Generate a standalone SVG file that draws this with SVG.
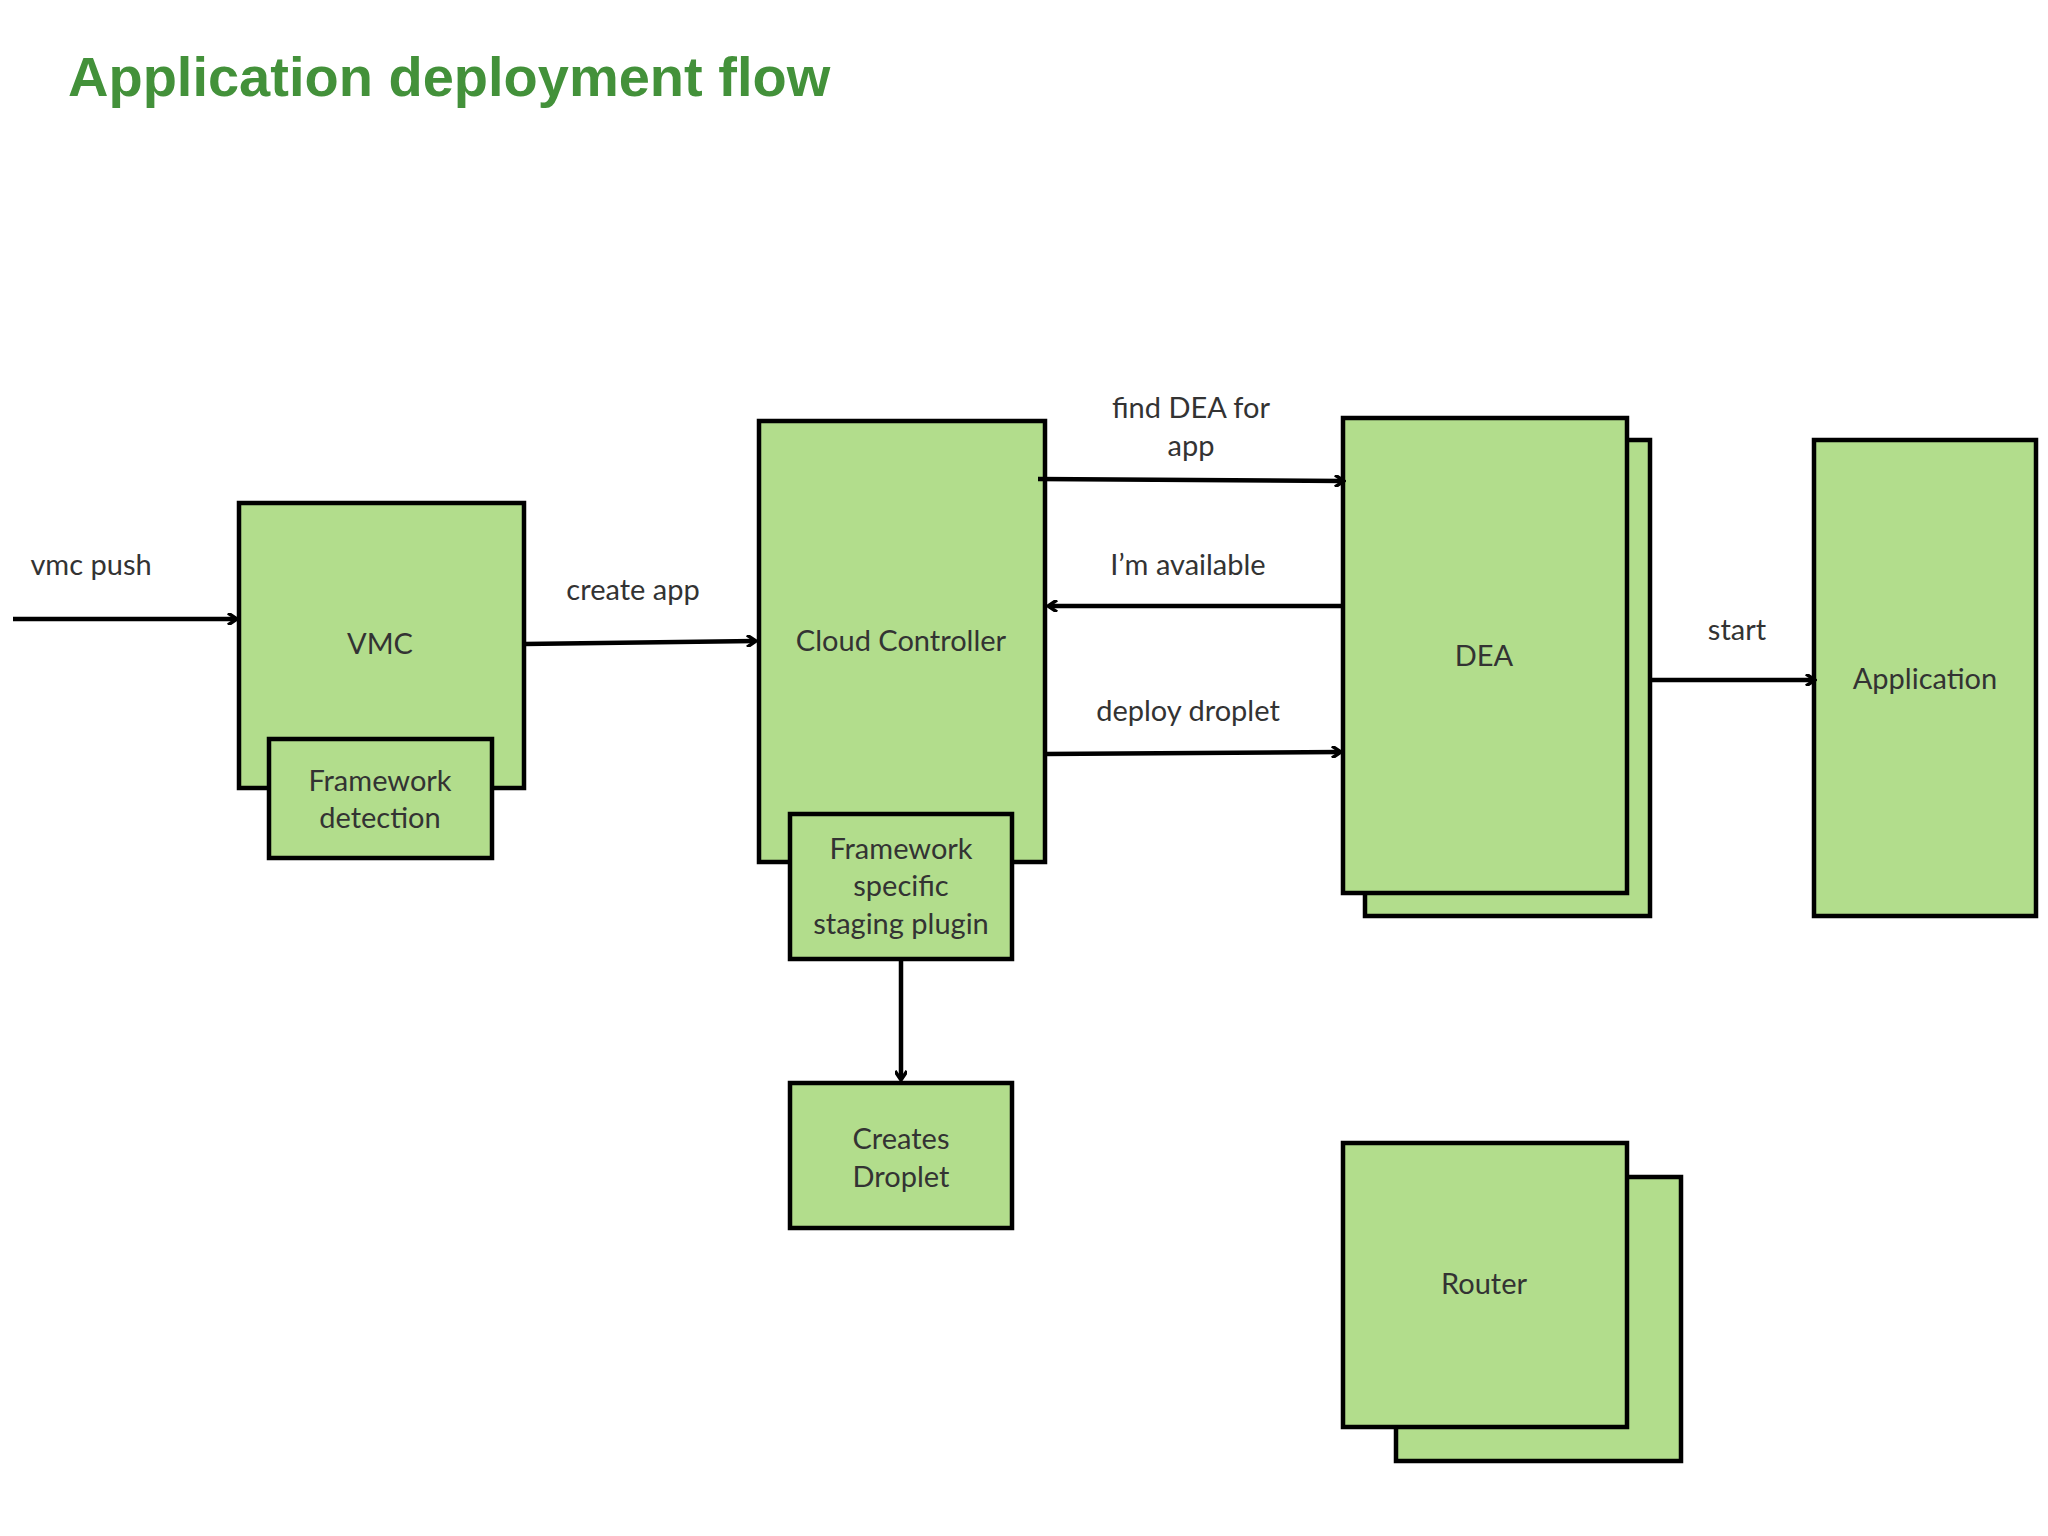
<svg xmlns="http://www.w3.org/2000/svg" width="2048" height="1536" viewBox="0 0 2048 1536">
<style>
.b{fill:#b2dd8c;stroke:#000;stroke-width:4.5}
.t{font-family:Lato,"Open Sans",sans-serif;font-size:29px;fill:#333;text-anchor:middle}
.c{stroke:#000;stroke-width:4.5;fill:none;marker-end:url(#a)}
</style>
<defs><marker id="a" markerWidth="12" markerHeight="12" refX="9" refY="6" orient="auto" markerUnits="userSpaceOnUse" viewBox="0 0 12 12"><path d="M1,0 L10,6 L1,12" fill="none" stroke="#000" stroke-width="3.5"/></marker></defs>
<rect width="2048" height="1536" fill="#fff"/>
<text x="68" y="96" font-family="'Liberation Sans',Arial,sans-serif" font-weight="bold" font-size="56" fill="#43913a">Application deployment flow</text>
<g id="vmc"><rect class="b" x="239" y="503" width="285" height="285"/><text class="t" x="380" y="654">VMC</text></g>
<g id="fwdetect"><rect class="b" x="269" y="739" width="223" height="119"/><text class="t" x="380" y="791">Framework</text><text class="t" x="380" y="828">detection</text></g>
<g id="cc"><rect class="b" x="759" y="421" width="286" height="441"/><text class="t" x="901" y="651">Cloud Controller</text></g>
<g id="fwplugin"><rect class="b" x="790" y="814" width="222" height="145"/><text class="t" x="901" y="859">Framework</text><text class="t" x="901" y="896">specific</text><text class="t" x="901" y="934">staging plugin</text></g>
<g id="droplet"><rect class="b" x="790" y="1083" width="222" height="145"/><text class="t" x="901" y="1149">Creates</text><text class="t" x="901" y="1187">Droplet</text></g>
<g id="dea"><rect class="b" x="1365" y="440" width="285" height="476"/><rect class="b" x="1343" y="418" width="284" height="475"/><text class="t" x="1484" y="666">DEA</text></g>
<g id="app"><rect class="b" x="1814" y="440" width="222" height="476"/><text class="t" x="1925" y="689">Application</text></g>
<g id="router"><rect class="b" x="1396" y="1177" width="285" height="284"/><rect class="b" x="1343" y="1143" width="284" height="284"/><text class="t" x="1484" y="1294">Router</text></g>
<g id="connectors">
<path class="c" d="M13,619 H236"/>
<path class="c" d="M524,644 L755,641"/>
<path class="c" d="M1038,479 L1343,481"/>
<path class="c" d="M1343,606 H1049"/>
<path class="c" d="M1045,754 L1340,752"/>
<path class="c" d="M1650,680 H1814"/>
<path class="c" d="M901,959 V1079"/>
<text class="t" x="91" y="575">vmc push</text>
<text class="t" x="633" y="600">create app</text>
<text class="t" x="1191" y="418">find DEA for</text>
<text class="t" x="1191" y="456">app</text>
<text class="t" x="1188" y="575">I’m available</text>
<text class="t" x="1188" y="721">deploy droplet</text>
<text class="t" x="1737" y="640">start</text>
</g>
</svg>
